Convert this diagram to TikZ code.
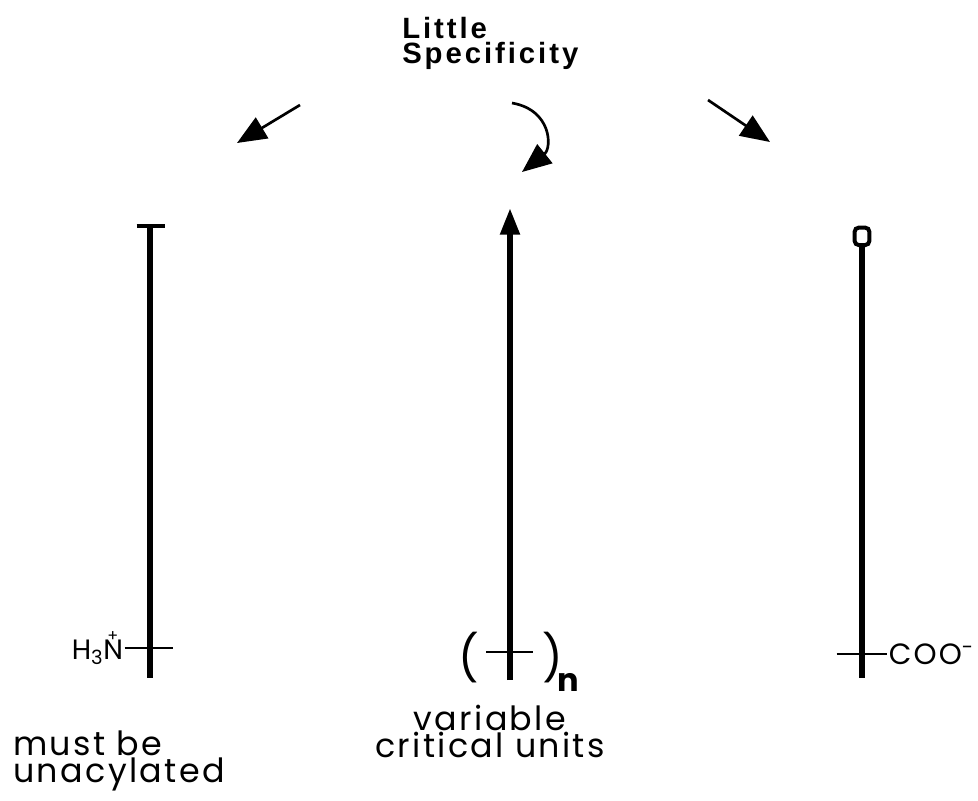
\documentclass[tikz,border=0pt]{standalone}
\usepackage{fontspec}
\usetikzlibrary{arrows.meta,positioning}
\newfontfamily\headfont[LetterSpace=10]{Liberation Sans}
\newfontfamily\unitfont[LetterSpace=7]{Poppins}
\newfontfamily\groupfont{Poppins}

\begin{document}
\begin{tikzpicture}[
  x=0.75pt,y=-0.75pt,
  every node/.style={inner sep=0pt},
  headtext/.style={font=\headfont\bfseries\fontsize{22}{18.75}\selectfont,align=left},
  unittext/.style={font=\unitfont\fontsize{25}{20}\selectfont},
  grouptext/.style={font=\groupfont\fontsize{21}{21}\selectfont},
  chain/.style={line width=4.5pt},
  crossbar/.style={line width=1.6pt},
  arrow/.style={-{Triangle[length=22pt,width=18pt]},line width=2pt}
]
\useasboundingbox (0,0) rectangle (978,800);
% heading
\node[headtext,anchor=north west] (spec) at (402,17) {Little\\Specificity};
\coordinate (lfrom) at (300,105);
\coordinate (lto) at (237,143);
\coordinate (mfrom) at (512,103);
\coordinate (mto) at (522,172);
\coordinate (rfrom) at (708,100);
\coordinate (rto) at (770,142);
\draw[arrow] (lfrom) -- (lto);
\draw[arrow] (mfrom) .. controls (552,110) and (552,148) .. (mto);
\draw[arrow] (rfrom) -- (rto);
% three chains
\coordinate (ltop) at (150,226);
\coordinate (lbot) at (150,678);
\coordinate (mtop) at (510,208);
\coordinate (mbot) at (510,680);
\coordinate (rtop) at (862,245);
\coordinate (rbot) at (862,678);
\draw[chain] (ltop) -- (lbot);
\draw[line width=3pt] ([xshift=-10pt]ltop) -- ([xshift=11pt]ltop);
\draw[chain,-{Triangle[length=20pt,width=14pt]}] (mbot) -- (mtop);
\draw[chain] (rtop) -- (rbot);
\draw[line width=3pt,rounded corners=3pt] ([xshift=-5.5pt]rtop) rectangle ([xshift=5.5pt,yshift=13pt]rtop);
% crossing units
\coordinate (ltick) at (150,648);
\coordinate (mtick) at (510,652);
\coordinate (rtick) at (862,654);
\draw[crossbar] ([xshift=-19pt]ltick) -- ([xshift=17pt]ltick);
\draw[crossbar] ([xshift=-18pt]mtick) -- ([xshift=17pt]mtick);
\draw[crossbar] ([xshift=-19pt]rtick) -- ([xshift=19pt]rtick);
\node[grouptext,anchor=east] (amine) at ([xshift=-20pt]ltick)
  {H\textsubscript{3}N\llap{\raisebox{1.2ex}{\fontsize{12}{12}\selectfont+\hspace{0.3em}}}};
\node[grouptext,font=\unitfont\fontsize{22}{22}\selectfont,anchor=west] (carb) at ([xshift=20pt]rtick)
  {COO\textsuperscript{-}};
\node[font=\groupfont\fontsize{34}{34}\selectfont,anchor=east] (lpar) at ([xshift=-23pt,yshift=-4pt]mtick) {(};
\node[font=\groupfont\fontsize{34}{34}\selectfont,anchor=west] (rpar) at ([xshift=24pt,yshift=-4pt]mtick) {)};
\node[font=\groupfont\bfseries\fontsize{24}{24}\selectfont,anchor=base west] (nsub) at (557,691) {n};
% notes
\node[unittext,align=center,anchor=base] (varnote) at (490,757) {variable\\critical units};
\node[unittext,align=left,anchor=base west] (acylnote) at (13,782) {must be\\unacylated};
\end{tikzpicture}
\end{document}
